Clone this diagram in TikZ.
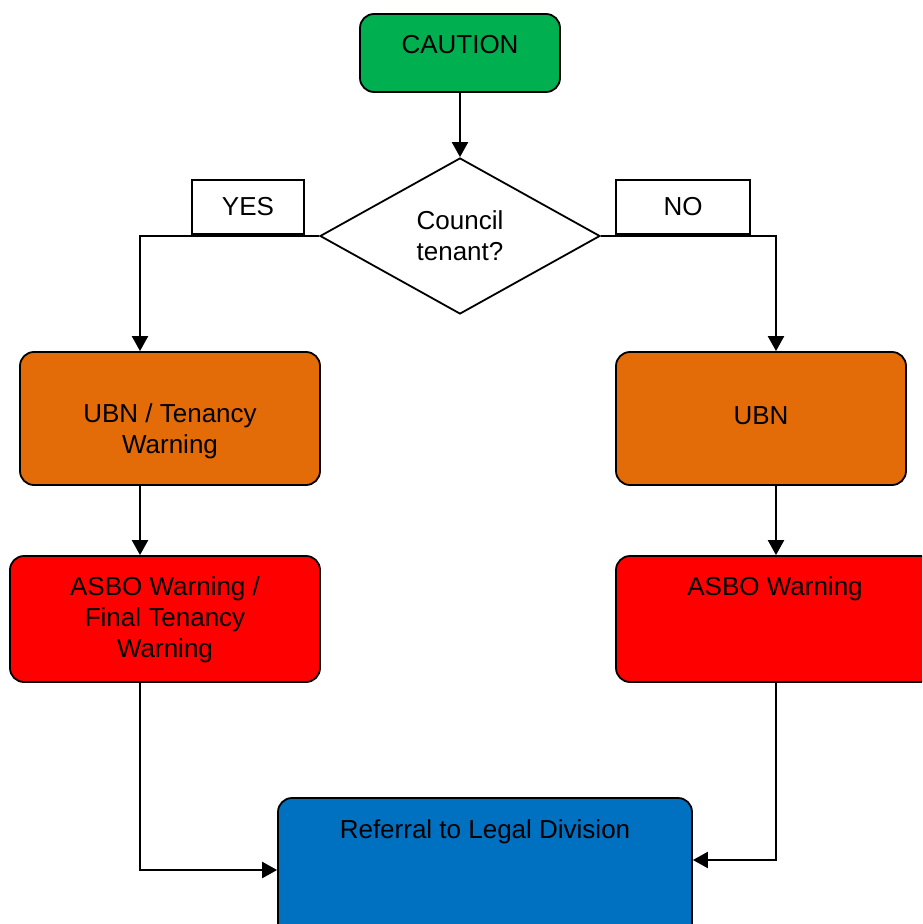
\documentclass[tikz,border=0pt]{standalone}
\usepackage{fontspec}
\setmainfont{Liberation Sans}
\usetikzlibrary{shapes.geometric,arrows.meta}
\definecolor{cautiongreen}{HTML}{00B050}
\definecolor{ubnorange}{HTML}{E36C09}
\definecolor{asbored}{HTML}{FF0000}
\definecolor{legalblue}{HTML}{0070C0}
\begin{document}
\begin{tikzpicture}[x=0.5pt,y=-0.5pt,
    font=\fontsize{13}{15.5}\selectfont,
    box/.style={draw,line width=0.9pt,rounded corners=7pt,inner sep=0pt},
    tag/.style={draw,fill=white,line width=0.9pt,inner sep=0pt,minimum height=27pt},
    txt/.style={align=center,inner sep=0pt},
    arr/.style={line width=1.1pt,-{Triangle[length=7.5pt,width=8pt]}}]
  \clip (0,0) rectangle (922,924);
  \fill[white] (0,0) rectangle (922,924);
  % boxes
  \node[box,fill=cautiongreen,minimum width=100pt,minimum height=39pt] (caution) at (460,53) {};
  \node[draw,fill=white,line width=0.9pt,shape=diamond,aspect=1.8,inner sep=0pt,
        minimum width=140pt,minimum height=78pt,align=center] (tenant) at (460,236) {Council\\tenant?};
  \node[tag,minimum width=56pt] (yes) at (248,207) {YES};
  \node[tag,minimum width=67pt] (no) at (683,207) {NO};
  \node[box,fill=ubnorange,minimum width=150pt,minimum height=66.5pt] (ubnl) at (170,418.5) {};
  \node[box,fill=ubnorange,minimum width=145pt,minimum height=66.5pt] (ubnr) at (761,418.5) {};
  \node[box,fill=asbored,minimum width=155pt,minimum height=63pt] (asbol) at (165,619) {};
  \node[box,fill=asbored,minimum width=159pt,minimum height=63pt] (asbor) at (775,619) {};
  \node[box,fill=legalblue,minimum width=207pt,minimum height=73pt] (legal) at (485,871) {};
  % texts
  \node[txt] (cautiontxt) at (460,45) {CAUTION};
  \node[txt] (ubnltxt) at (170,431) {UBN / Tenancy\\Warning};
  \node[txt] (ubnrtxt) at (761,416) {UBN};
  \node[txt] (asboltxt) at (165,620) {ASBO Warning /\\Final Tenancy\\Warning};
  \node[txt] (asbortxt) at (775,589) {ASBO Warning};
  \node[txt] (legaltxt) at (485,832) {Referral to Legal Division};
  % connectors
  \coordinate (lx) at (140,0);
  \coordinate (rx) at (776,0);
  \coordinate (ly) at (0,870);
  \coordinate (ry) at (0,860);
  \begin{scope}[arr]
    \draw (caution) -- (tenant.north);
    \draw (tenant.west) -| (ubnl.north -| lx);
    \draw (tenant.east) -| (ubnr.north -| rx);
    \draw (ubnl.south -| lx) -- (asbol.north -| lx);
    \draw (ubnr.south -| rx) -- (asbor.north -| rx);
    \draw (asbol.south -| lx) |- (legal.west |- ly);
    \draw (asbor.south -| rx) |- (legal.east |- ry);
  \end{scope}
\end{tikzpicture}
\end{document}
